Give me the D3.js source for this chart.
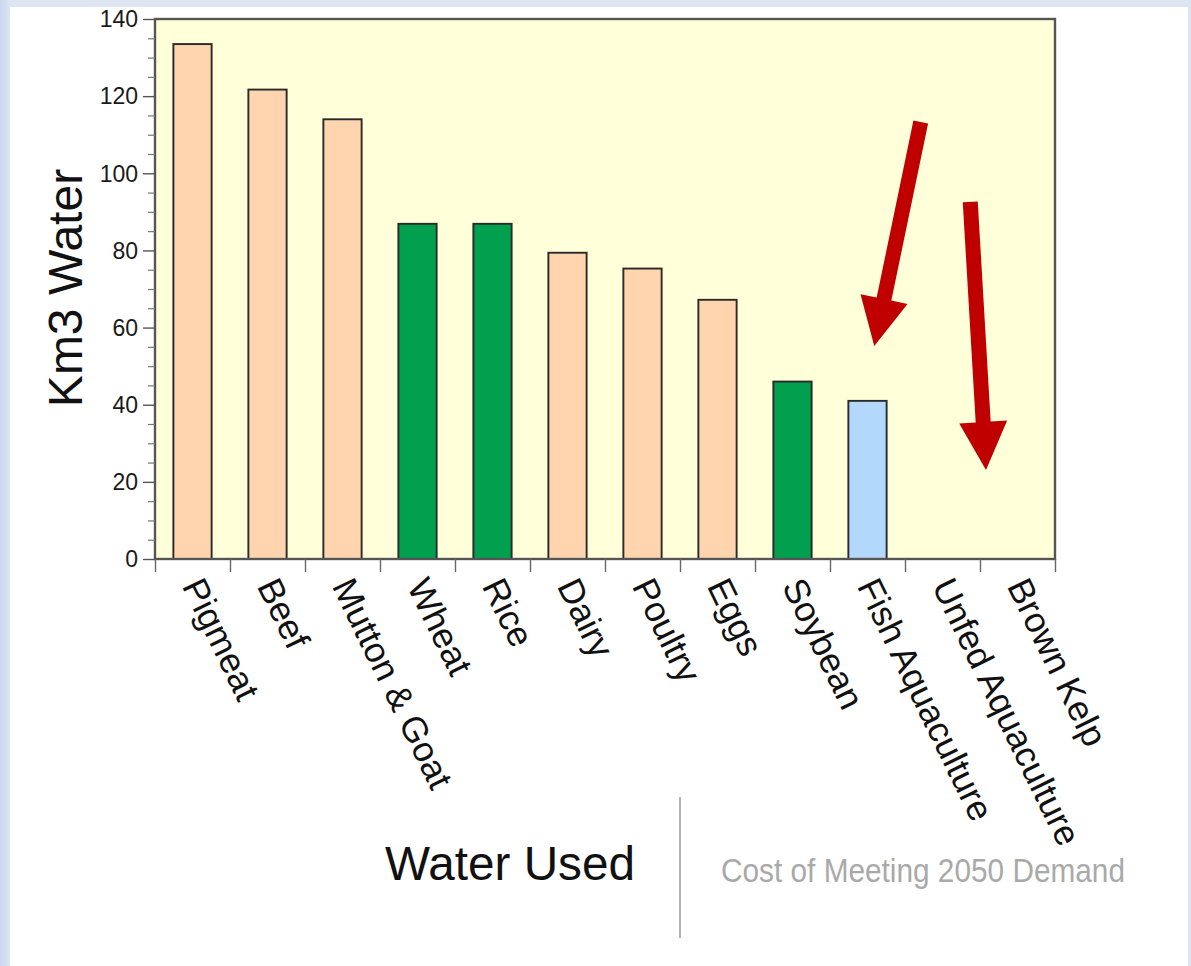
<!DOCTYPE html>
<html>
<head>
<meta charset="utf-8">
<script src="https://cdn.jsdelivr.net/npm/d3@7"></script>
<style>
  html, body { margin: 0; padding: 0; background: #dde5f3; }
  svg { display: block; }
  text { font-family: "Liberation Sans", Arial, Helvetica, sans-serif; }
</style>
</head>
<body>
<svg id="chart" width="1191" height="966"></svg>
<script>
// ---- data ----
const categories = ["Pigmeat", "Beef", "Mutton & Goat", "Wheat", "Rice", "Dairy", "Poultry", "Eggs", "Soybean", "Fish Aquaculture", "Unfed Aquaculture", "Brown Kelp"];
const values = [133.5, 121.7, 114, 86.9, 86.9, 79.4, 75.3, 67.2, 46, 41, 0, 0];
const groups = ["animal", "animal", "animal", "crop", "crop", "animal", "animal", "animal", "crop", "fish", "fish", "fish"];
const yTicks = [0, 20, 40, 60, 80, 100, 120, 140];
const yMinorTicks = [5, 10, 15, 25, 30, 35, 45, 50, 55, 65, 70, 75, 85, 90, 95, 105, 110, 115, 125, 130, 135];
// arrows: [band index position start, value start, band index position tip, value tip]
const arrows = [
  [10.21, 113.3, 9.59, 55.2],
  [10.87, 92.6, 11.08, 23.1]
];
const yTitle = "Km3 Water";
const footLeft = "Water Used";
const footRight = "Cost of Meeting 2050 Demand";

const colors = { animal: "#fed5ae", crop: "#00a04f", fish: "#b2d8fb" };

// ---- layout ----
const svg = d3.select("#chart");
const W = 1191, H = 966;
const plot = { left: 155, right: 1055, top: 19, bottom: 559 };

// background panel
const defs = svg.append("defs");
const lg = defs.append("linearGradient").attr("id", "leftgrad").attr("x1", 0).attr("x2", 1).attr("y1", 0).attr("y2", 0);
lg.append("stop").attr("offset", "0%").attr("stop-color", "#c9d6ee");
lg.append("stop").attr("offset", "100%").attr("stop-color", "#dde5f3");
svg.append("rect").attr("x", 0).attr("y", 0).attr("width", W).attr("height", H).attr("fill", "#dde5f3");
svg.append("rect").attr("x", 0).attr("y", 0).attr("width", 10).attr("height", H).attr("fill", "url(#leftgrad)");
svg.append("rect").attr("x", 10).attr("y", 7).attr("width", 1178).attr("height", H - 7).attr("fill", "#ffffff");

const shadow = defs.append("filter").attr("id", "soft").attr("x", "-5%").attr("y", "-5%").attr("width", "110%").attr("height", "110%");
shadow.append("feGaussianBlur").attr("stdDeviation", 0.7);

// scales
const x = d3.scaleBand().domain(categories).range([plot.left, plot.right]).padding(0);
const xi = d3.scaleLinear().domain([0, categories.length]).range([plot.left, plot.right]);
const y = d3.scaleLinear().domain([0, 140]).range([plot.bottom, plot.top]);

// plot background
svg.append("rect")
  .attr("x", plot.left).attr("y", plot.top)
  .attr("width", plot.right - plot.left).attr("height", plot.bottom - plot.top)
  .attr("fill", "#ffffd9");

// bars
const barW = x.bandwidth() * 0.51;
svg.append("g").selectAll("rect")
  .data(categories.map((c, i) => ({ c, v: values[i], g: groups[i] })).filter(d => d.v > 0))
  .join("rect")
  .attr("x", d => x(d.c) + (x.bandwidth() - barW) / 2)
  .attr("y", d => y(d.v))
  .attr("width", barW)
  .attr("height", d => y(0) - y(d.v))
  .attr("fill", d => colors[d.g])
  .attr("stroke", "#2a2a2a")
  .attr("stroke-width", 1.9)
  .attr("filter", "url(#soft)");

// frame
svg.append("rect")
  .attr("x", plot.left).attr("y", plot.top)
  .attr("width", plot.right - plot.left).attr("height", plot.bottom - plot.top)
  .attr("fill", "none").attr("stroke", "#555").attr("stroke-width", 2.4)
  .attr("filter", "url(#soft)");

// y axis major
const yAxis = d3.axisLeft(y).tickValues(yTicks).tickSize(12).tickPadding(5).tickFormat(d3.format("d"));
const gy = svg.append("g").attr("transform", `translate(${plot.left},0)`).call(yAxis);
gy.select(".domain").remove();
gy.selectAll(".tick line").attr("stroke", "#555").attr("stroke-width", 1.4);
gy.selectAll(".tick text").attr("font-size", 23).attr("fill", "#1a1a1a")
  .attr("font-family", "'Liberation Sans', Arial, sans-serif").attr("dy", "0.34em");

// y axis minor
const yMinor = d3.axisLeft(y).tickValues(yMinorTicks).tickSize(7).tickFormat("");
const gym = svg.append("g").attr("transform", `translate(${plot.left},0)`).call(yMinor);
gym.select(".domain").remove();
gym.selectAll(".tick line").attr("stroke", "#777").attr("stroke-width", 1.2);

// x axis ticks at band boundaries
const xAxis = d3.axisBottom(xi).tickValues(d3.range(0, categories.length + 1)).tickSize(13).tickFormat("");
const gx = svg.append("g").attr("transform", `translate(0,${plot.bottom})`).call(xAxis);
gx.select(".domain").remove();
gx.selectAll(".tick line").attr("stroke", "#666").attr("stroke-width", 1.4);

// category labels
svg.append("g").selectAll("text")
  .data(categories)
  .join("text")
  .attr("transform", d => `translate(${x(d) + x.bandwidth() / 2 - 11},${plot.bottom + 27}) rotate(64)`)
  .attr("text-anchor", "start")
  .attr("font-size", 35.5)
  .attr("fill", "#111")
  .text(d => d);

// y title
svg.append("text")
  .attr("transform", `translate(82,288) rotate(-90)`)
  .attr("text-anchor", "middle")
  .attr("font-size", 48)
  .attr("fill", "#111")
  .text(yTitle);

// arrows
function arrowPath(x0, y0, x1, y1, shaftW, headW, headL) {
  const dx = x1 - x0, dy = y1 - y0;
  const len = Math.hypot(dx, dy);
  const ux = dx / len, uy = dy / len;
  const px = -uy, py = ux;
  const bx = x1 - ux * headL, by = y1 - uy * headL;
  const pts = [
    [x0 + px * shaftW / 2, y0 + py * shaftW / 2],
    [bx + px * shaftW / 2, by + py * shaftW / 2],
    [bx + px * headW / 2, by + py * headW / 2],
    [x1, y1],
    [bx - px * headW / 2, by - py * headW / 2],
    [bx - px * shaftW / 2, by - py * shaftW / 2],
    [x0 - px * shaftW / 2, y0 - py * shaftW / 2]
  ];
  return "M" + pts.map(p => p.join(",")).join("L") + "Z";
}
svg.append("g").selectAll("path")
  .data(arrows)
  .join("path")
  .attr("d", a => arrowPath(xi(a[0]), y(a[1]), xi(a[2]), y(a[3]), 15, 48, 48))
  .attr("fill", "#c00000");

// footer
svg.append("text")
  .attr("x", 385).attr("y", 880)
  .attr("font-size", 48)
  .attr("textLength", 250).attr("lengthAdjust", "spacingAndGlyphs")
  .attr("fill", "#111")
  .text(footLeft);

svg.append("line")
  .attr("x1", 680).attr("x2", 680).attr("y1", 797).attr("y2", 938)
  .attr("stroke", "#9a9a9a").attr("stroke-width", 1.5);

svg.append("text")
  .attr("x", 721).attr("y", 882)
  .attr("font-size", 34)
  .attr("textLength", 404).attr("lengthAdjust", "spacingAndGlyphs")
  .attr("fill", "#a9a9a9")
  .text(footRight);
</script>
</body>
</html>
